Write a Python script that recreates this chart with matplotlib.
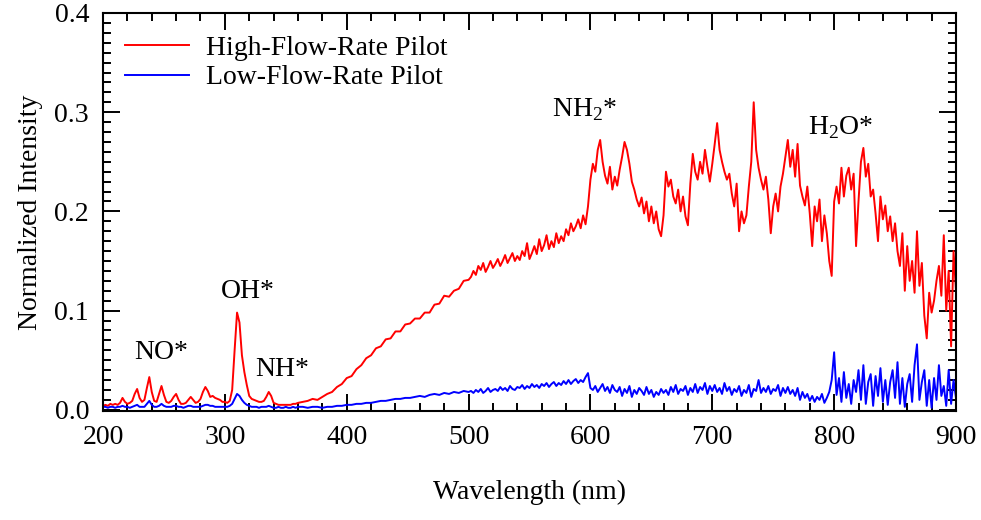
import numpy as np
import matplotlib
matplotlib.use("Agg")
import matplotlib.pyplot as plt
from matplotlib.ticker import MultipleLocator, FormatStrFormatter

plt.rcParams['font.family'] = ['Liberation Serif', 'DejaVu Serif']
plt.rcParams['mathtext.fontset'] = 'custom'
plt.rcParams['mathtext.rm'] = 'Liberation Serif'

# wavelength grids (nm)
wl_uv = np.arange(200, 361, 2)
wl_mid = np.arange(364, 501, 4)
wl_nir = np.arange(502, 901, 2)

# High-flow-rate pilot, 200-360 nm
high_uv = [0.004, 0.005, 0.004, 0.006, 0.005, 0.006, 0.005, 0.007, 0.012, 0.008,
           0.006, 0.007, 0.009, 0.016, 0.021, 0.012, 0.008, 0.010, 0.022, 0.033,
           0.018, 0.009, 0.008, 0.016, 0.024, 0.015, 0.008, 0.007, 0.009, 0.013,
           0.016, 0.010, 0.006, 0.006, 0.007, 0.010, 0.013, 0.010, 0.007, 0.008,
           0.011, 0.018, 0.023, 0.019, 0.013, 0.014, 0.012, 0.011, 0.010, 0.008,
           0.008, 0.007, 0.009, 0.020, 0.060, 0.098, 0.088, 0.055, 0.038, 0.025,
           0.014, 0.011, 0.010, 0.009, 0.008, 0.008, 0.009, 0.013, 0.018, 0.014,
           0.007, 0.006, 0.005, 0.005, 0.005, 0.005, 0.005, 0.005, 0.006, 0.006,
           0.007]

# Low-flow-rate pilot, 200-360 nm
low_uv = [0.003, 0.003, 0.002, 0.003, 0.003, 0.002, 0.003, 0.003, 0.004, 0.003,
          0.003, 0.002, 0.003, 0.004, 0.005, 0.003, 0.003, 0.003, 0.006, 0.009,
          0.005, 0.003, 0.003, 0.004, 0.006, 0.004, 0.003, 0.003, 0.003, 0.004,
          0.004, 0.003, 0.003, 0.002, 0.003, 0.004, 0.004, 0.003, 0.003, 0.003,
          0.003, 0.004, 0.005, 0.005, 0.004, 0.004, 0.003, 0.003, 0.003, 0.003,
          0.003, 0.003, 0.004, 0.006, 0.011, 0.016, 0.014, 0.010, 0.007, 0.005,
          0.004, 0.003, 0.003, 0.003, 0.002, 0.003, 0.003, 0.003, 0.004, 0.003,
          0.002, 0.002, 0.003, 0.002, 0.002, 0.003, 0.002, 0.002, 0.003, 0.002,
          0.003]

# 364-500 nm
high_mid = [0.008, 0.009, 0.011, 0.010, 0.013, 0.016, 0.018, 0.023, 0.026, 0.032,
            0.034, 0.041, 0.045, 0.052, 0.055, 0.062, 0.064, 0.071, 0.072, 0.079,
            0.079, 0.086, 0.087, 0.092, 0.092, 0.098, 0.098, 0.106, 0.107, 0.115,
            0.114, 0.120, 0.122, 0.130, 0.131]
low_mid = [0.003, 0.002, 0.003, 0.003, 0.002, 0.003, 0.003, 0.004, 0.004, 0.005,
           0.005, 0.006, 0.006, 0.007, 0.007, 0.008, 0.009, 0.009, 0.010, 0.011,
           0.011, 0.012, 0.012, 0.013, 0.014, 0.013, 0.015, 0.016, 0.015, 0.017,
           0.016, 0.018, 0.017, 0.019, 0.018]

# 502-900 nm
high_nir = [0.134, 0.140, 0.136, 0.145, 0.141, 0.148, 0.139, 0.144, 0.150, 0.143,
            0.147, 0.152, 0.145, 0.150, 0.156, 0.148, 0.153, 0.158, 0.150, 0.155,
            0.151, 0.160, 0.155, 0.168, 0.152, 0.158, 0.165, 0.157, 0.172, 0.160,
            0.166, 0.176, 0.162, 0.170, 0.164, 0.178, 0.168, 0.175, 0.170, 0.182,
            0.176, 0.188, 0.180, 0.185, 0.192, 0.183, 0.196, 0.187, 0.205, 0.232,
            0.248, 0.240, 0.262, 0.272, 0.250, 0.236, 0.228, 0.245, 0.222, 0.235,
            0.226, 0.242, 0.255, 0.270, 0.262, 0.248, 0.230, 0.222, 0.212, 0.205,
            0.214, 0.198, 0.210, 0.190, 0.205, 0.188, 0.200, 0.182, 0.175, 0.196,
            0.240, 0.225, 0.232, 0.215, 0.208, 0.222, 0.200, 0.215, 0.195, 0.186,
            0.228, 0.258, 0.240, 0.232, 0.250, 0.238, 0.262, 0.245, 0.230, 0.248,
            0.268, 0.289, 0.262, 0.250, 0.240, 0.232, 0.238, 0.218, 0.205, 0.228,
            0.180, 0.200, 0.188, 0.196, 0.225, 0.250, 0.310, 0.262, 0.244, 0.232,
            0.222, 0.235, 0.212, 0.178, 0.205, 0.218, 0.200, 0.225, 0.238, 0.255,
            0.272, 0.245, 0.262, 0.235, 0.268, 0.226, 0.215, 0.206, 0.225, 0.198,
            0.165, 0.205, 0.190, 0.212, 0.170, 0.196, 0.178, 0.150, 0.135, 0.210,
            0.225, 0.208, 0.244, 0.215, 0.236, 0.244, 0.222, 0.238, 0.165, 0.210,
            0.250, 0.264, 0.235, 0.248, 0.215, 0.222, 0.198, 0.170, 0.215, 0.192,
            0.206, 0.180, 0.195, 0.170, 0.188, 0.160, 0.145, 0.178, 0.120, 0.165,
            0.130, 0.150, 0.118, 0.180, 0.125, 0.148, 0.095, 0.072, 0.118, 0.098,
            0.110, 0.130, 0.145, 0.115, 0.176, 0.100, 0.140, 0.064, 0.160, 0.120]
low_nir = [0.019, 0.017, 0.020, 0.018, 0.021, 0.017, 0.019, 0.022, 0.018, 0.020,
           0.021, 0.019, 0.023, 0.020, 0.022, 0.019, 0.024, 0.021, 0.020, 0.023,
           0.022, 0.025, 0.021, 0.024, 0.022, 0.026, 0.023, 0.025, 0.022, 0.026,
           0.024, 0.027, 0.023, 0.026, 0.028, 0.024, 0.027, 0.025, 0.029, 0.026,
           0.030, 0.026, 0.029, 0.031, 0.027, 0.030, 0.028, 0.033, 0.037, 0.022,
           0.020, 0.024, 0.018, 0.022, 0.026, 0.019, 0.023, 0.017, 0.025, 0.020,
           0.018, 0.023, 0.014, 0.021, 0.017, 0.024, 0.013, 0.020, 0.016, 0.022,
           0.019, 0.015, 0.023, 0.016, 0.020, 0.013, 0.018, 0.015, 0.021, 0.017,
           0.020, 0.015, 0.023, 0.018, 0.025, 0.016, 0.021, 0.019, 0.024, 0.015,
           0.022, 0.018, 0.026, 0.017, 0.023, 0.020, 0.027, 0.016, 0.024, 0.019,
           0.025, 0.018, 0.022, 0.016, 0.027, 0.019, 0.023, 0.015, 0.021, 0.018,
           0.024, 0.014, 0.020, 0.017, 0.025, 0.013, 0.021, 0.019, 0.030, 0.017,
           0.022, 0.018, 0.024, 0.016, 0.021, 0.019, 0.025, 0.014, 0.022, 0.017,
           0.023, 0.016, 0.020, 0.014, 0.022, 0.010, 0.018, 0.012, 0.016, 0.009,
           0.014, 0.008, 0.013, 0.010, 0.016, 0.007, 0.012, 0.018, 0.030, 0.058,
           0.015, 0.032, 0.008, 0.038, 0.012, 0.026, 0.006, 0.030, 0.018, 0.040,
           0.010, 0.045, 0.006, 0.028, 0.036, 0.004, 0.034, 0.014, 0.042, 0.008,
           0.030, 0.005, 0.028, 0.040, 0.012, 0.048, 0.006, 0.032, 0.003, 0.026,
           0.036, 0.008, 0.045, 0.066, 0.010, 0.028, 0.040, 0.004, 0.030, 0.002,
           0.032, 0.010, 0.045, 0.014, 0.024, 0.004, 0.040, 0.006, 0.030, 0.012]

wl = np.concatenate([wl_uv, wl_mid, wl_nir])
high = np.concatenate([high_uv, high_mid, high_nir])
low = np.concatenate([low_uv, low_mid, low_nir])

fig = plt.figure(figsize=(9.81, 5.20), dpi=100)
ax = fig.add_axes([0.105, 0.21, 0.8695, 0.765])

ax.plot(wl, high, color='#ff0000', lw=1.4, label='High-Flow-Rate Pilot')
ax.plot(wl, low, color='#0000ff', lw=1.4, label='Low-Flow-Rate Pilot')

ax.set_xlim(200, 900)
ax.set_ylim(-0.001, 0.4)
ax.xaxis.set_major_locator(MultipleLocator(100))
ax.xaxis.set_minor_locator(MultipleLocator(20))
ax.yaxis.set_major_locator(MultipleLocator(0.1))
ax.yaxis.set_minor_locator(MultipleLocator(0.01))
ax.yaxis.set_major_formatter(FormatStrFormatter('%.1f'))
ax.tick_params(which='both', direction='in', top=True, right=True, labelsize=20, width=1.4)
ax.tick_params(which='major', length=12, pad=10)
ax.tick_params(which='minor', length=6)
for s in ax.spines.values():
    s.set_linewidth(1.5)

ax.set_xlabel('Wavelength (nm)', fontsize=20, labelpad=22)
ax.set_ylabel('Normalized Intensity', fontsize=20, labelpad=8)

# species labels
ax.text(248, 0.058, 'NO*', fontsize=20, ha='center', va='center')
ax.text(319, 0.119, 'OH*', fontsize=20, ha='center', va='center')
ax.text(347, 0.041, 'NH*', fontsize=20, ha='center', va='center')
ax.text(595, 0.303, r'NH$_\mathrm{2}$*', fontsize=20, ha='center', va='center')
ax.text(805, 0.284, r'H$_\mathrm{2}$O*', fontsize=20, ha='center', va='center')

ax.legend(loc='upper left', frameon=False, fontsize=20, handlelength=2.3,
          labelspacing=0.15, borderaxespad=0.4, handletextpad=0.6)

plt.savefig('out.png', dpi=100)
plt.close()
